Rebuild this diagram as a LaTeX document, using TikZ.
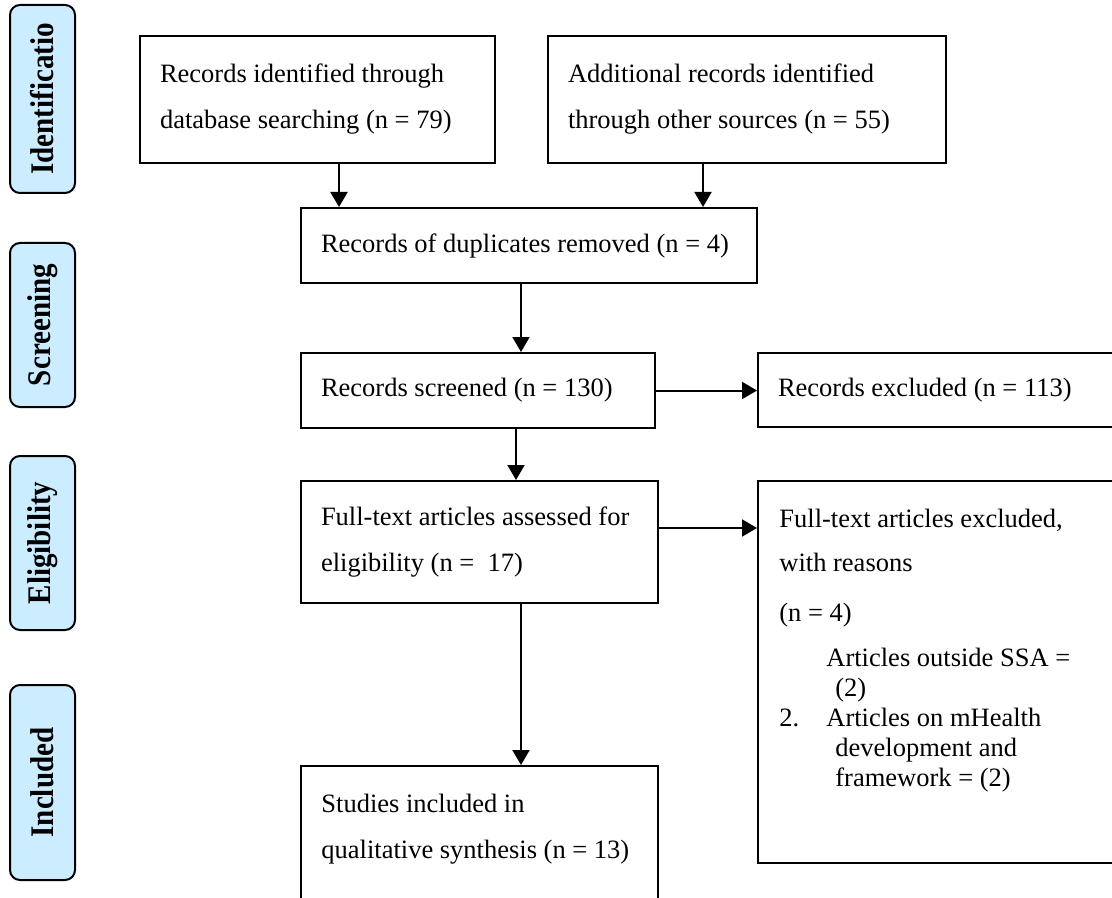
\documentclass[tikz,border=0pt]{standalone}
\usepackage{fontspec}
\setmainfont{Liberation Serif}
\usetikzlibrary{arrows.meta}
\definecolor{phaseblue}{RGB}{204,236,255}

\begin{document}
\begin{tikzpicture}[x=0.5pt, y=-0.5pt,
    font=\fontsize{13.25pt}{23pt}\selectfont,
    box/.style={draw, line width=1pt, align=flush left, inner xsep=10pt, inner ysep=0pt},
    phase/.style={draw, line width=1pt, rounded corners=5pt, fill=phaseblue, rotate=90,
        minimum height=32.5pt, inner sep=0pt, font=\fontsize{16.5pt}{18pt}\selectfont\bfseries},
    arr/.style={line width=1pt, -{Triangle[length=7.5pt, width=8.5pt]}}]
    \path[use as bounding box, clip] (0,0) rectangle (1112,898);

    \node[phase, minimum width=94pt] (ph1) at (42.5,99) {\scalebox{0.88}[1]{Identificatio}};
    \node[phase, minimum width=82pt] (ph2) at (42.5,325) {\scalebox{0.88}[1]{Screening}};
    \node[phase, minimum width=87pt] (ph3) at (42.5,543) {\scalebox{0.88}[1]{Eligibility}};
    \node[phase, minimum width=97.5pt] (ph4) at (42.5,782.5) {\scalebox{0.88}[1]{Included}};

    \node[box, text width=157.5pt, minimum height=63.5pt] (ident1) at (317.5,99.5)
        {Records identified through\\database searching (n = 79)};
    \node[box, text width=179pt, minimum height=63.5pt] (ident2) at (747,99.5)
        {Additional records identified\\through other sources (n = 55)};
    \node[box, text width=208pt, minimum height=37.5pt] (dup) at (529,245.5)
        {Records of duplicates removed (n = 4)};
    \node[box, text width=157pt, minimum height=37.5pt] (screen) at (478,390.5)
        {Records screened (n = 130)};
    \node[box, text width=166pt, minimum height=37pt] (excl) at (944,390)
        {Records excluded (n = 113)};
    \node[box, text width=158.5pt, minimum height=61pt] (full) at (479.5,542)
        {Full-text articles assessed for\\eligibility (n = \ 17)};
    \node[box, minimum width=186pt, minimum height=191pt] (fullex) at (944,672) {};
    \node[box, minimum width=178.5pt, minimum height=75pt, anchor=north] (incl) at (479.5,765) {};

    \node[anchor=base west, inner sep=0pt, align=flush left] (incltxt) at (321,858)
        {Studies included in\\qualitative synthesis (n = 13)};

    \foreach \i/\bx/\by/\txt in {1/779/527/{Full-text articles excluded,},
        2/779/571/{with reasons}, 3/779/621/{(n = 4)},
        4/826/666/{Articles outside SSA =}, 5/835/696/{(2)},
        6/779/726/{\makebox[23.5pt][l]{2.}Articles on mHealth},
        7/835/756/{development and}, 8/835/786/{framework = (2)}}
        \node[anchor=base west, inner sep=0pt] (why\i) at (\bx,\by) {\txt};

    \coordinate (a1) at ([xshift=10.75pt]ident1.south);
    \coordinate (a2) at ([xshift=-22pt]ident2.south);
    \coordinate (a3) at ([xshift=-4pt]dup.south);
    \coordinate (a4) at ([xshift=19pt]screen.south);
    \coordinate (a5) at ([yshift=7pt]full.east);
    \coordinate (a6) at ([xshift=20.75pt]full.south);

    \draw[arr] (a1) -- (a1 |- dup.north);
    \draw[arr] (a2) -- (a2 |- dup.north);
    \draw[arr] (a3) -- (a3 |- screen.north);
    \draw[arr] (screen.east) -- (screen.east -| excl.west);
    \draw[arr] (a4) -- (a4 |- full.north);
    \draw[arr] (a5) -- (a5 -| fullex.west);
    \draw[arr] (a6) -- (a6 |- incl.north);
\end{tikzpicture}
\end{document}
